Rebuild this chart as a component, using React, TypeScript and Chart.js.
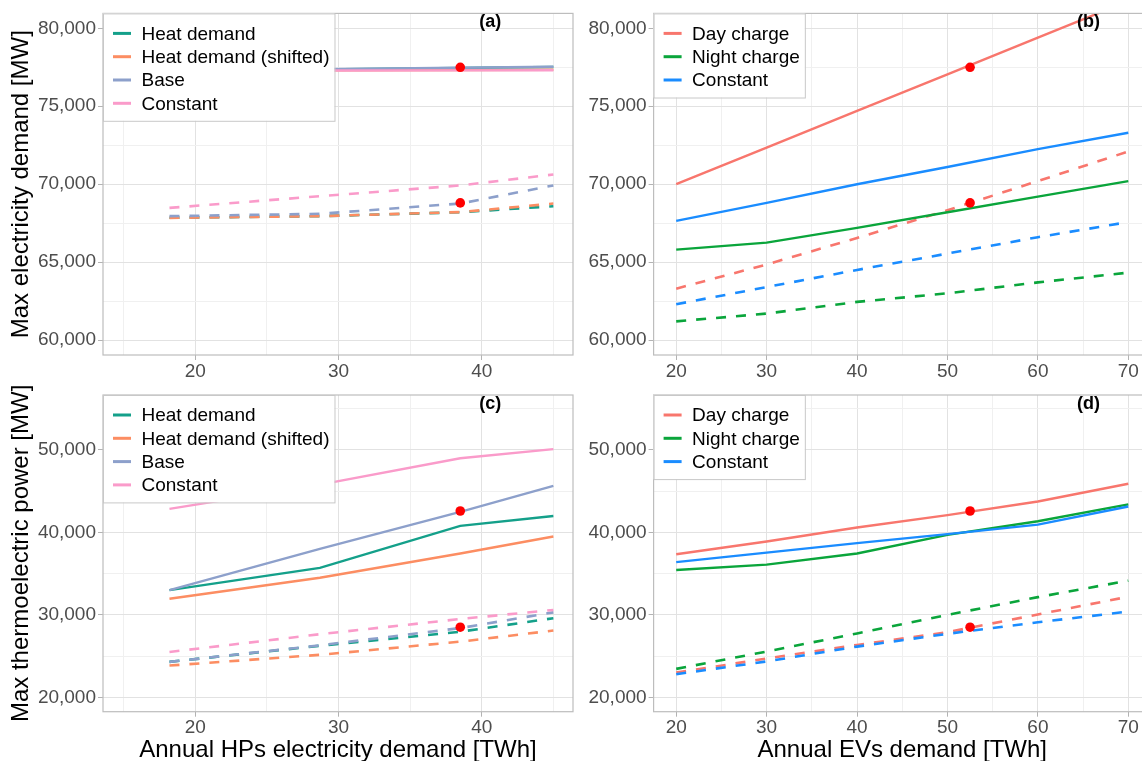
import React, { useEffect, useRef } from "react";
import { Chart, registerables } from "chart.js";

Chart.register(...registerables);

const FONT = "'Liberation Sans', Arial, Helvetica, sans-serif";

// ---------- x values ----------
const hpDemandTWh = [18.2, 28.7, 38.5, 45.0];
const evDemandTWh = [20, 30, 40, 50, 60, 70];

// ---------- tick values ----------
const hpMajorTicks = [20, 30, 40];
const hpMinorTicks = [15, 25, 35, 45];
const evMajorTicks = [20, 30, 40, 50, 60, 70];
const evMinorTicks = [25, 35, 45, 55, 65];
const elecMajorTicks = [60000, 65000, 70000, 75000, 80000];
const elecMinorTicks = [62500, 67500, 72500, 77500];
const thermoMajorTicks = [20000, 30000, 40000, 50000];
const thermoMinorTicks = [25000, 35000, 45000, 55000];

// ---------- series names ----------
const hpSeries = ["Heat demand", "Heat demand (shifted)", "Base", "Constant"];
const evSeries = ["Day charge", "Night charge", "Constant"];

// ---------- (a) max electricity demand vs HP demand ----------
const aHeatSolid = [77300, 77360, 77460, 77520];
const aShiftedSolid = [77290, 77300, 77320, 77340];
const aBaseSolid = [77300, 77370, 77470, 77530];
const aConstSolid = [77280, 77290, 77300, 77310];
const aHeatDashed = [67850, 67950, 68200, 68590];
const aShiftedDashed = [67840, 67950, 68210, 68760];
const aBaseDashed = [67950, 68100, 68760, 69920];
const aConstDashed = [68480, 69230, 69920, 70620];
const aMarkX = [38.5, 38.5];
const aMarkY = [77500, 68800];

// ---------- (b) max electricity demand vs EV demand ----------
const bDaySolid = [70000, 72350, 74700, 77050, 79400, 81750];
const bNightSolid = [65800, 66250, 67200, 68200, 69200, 70200];
const bConstSolid = [67650, 68800, 70000, 71100, 72250, 73300];
const bDayDashed = [63300, 64850, 66550, 68330, 70200, 72100];
const bNightDashed = [61200, 61700, 62450, 63000, 63700, 64330];
const bConstDashed = [62300, 63400, 64500, 65550, 66600, 67570];
const bMarkX = [52.5, 52.5];
const bMarkY = [77500, 68800];

// ---------- (c) max thermoelectric power vs HP demand ----------
const cHeatSolid = [33000, 35700, 40800, 42000];
const cShiftedSolid = [31950, 34500, 37450, 39500];
const cBaseSolid = [33000, 38000, 42500, 45650];
const cConstSolid = [42850, 45800, 49000, 50100];
const cHeatDashed = [24300, 26250, 27950, 29600];
const cShiftedDashed = [23850, 25150, 26750, 28100];
const cBaseDashed = [24300, 26300, 28400, 30300];
const cConstDashed = [25500, 27650, 29500, 30600];
const cMarkX = [38.5, 38.5];
const cMarkY = [42600, 28500];

// ---------- (d) max thermoelectric power vs EV demand ----------
const dDaySolid = [37350, 38900, 40600, 42100, 43750, 45900];
const dNightSolid = [35450, 36100, 37450, 39700, 41350, 43400];
const dConstSolid = [36400, 37550, 38700, 39800, 40950, 43150];
const dDayDashed = [23000, 24700, 26350, 27900, 30050, 32200];
const dNightDashed = [23450, 25550, 27750, 30000, 32150, 34150];
const dConstDashed = [22800, 24350, 26150, 27700, 29100, 30400];
const dMarkX = [52.5, 52.5];
const dMarkY = [42600, 28500];

// ---------- styles ----------
const HP_COLORS = ["#14A08A", "#FC8D62", "#8DA0CB", "#FA9BCA"];
const EV_COLORS = ["#F8766D", "#0AA53B", "#1A8CFF"];
const MAJOR_GRID = "#E2E2E2";
const MINOR_GRID = "#F0F0F0";
const TICK_COLOR = "#B3B3B3";
const TEXT_GRAY = "#4D4D4D";

function buildDatasets(xs: number[], names: string[], solids: number[][], dashes: number[][], colors: string[], markX: number[], markY: number[]) {
  const ds: any[] = [];
  ds.push({
    label: "marker",
    data: markX.map((x, i) => ({ x, y: markY[i] })),
    showLine: false,
    pointRadius: 4.8,
    pointBackgroundColor: "#FF0000",
    pointBorderWidth: 0,
    borderColor: "#FF0000",
    order: -100,
  });
  names.forEach((name, i) => {
    ds.push({
      label: name,
      data: xs.map((x, j) => ({ x, y: solids[i][j] })),
      borderColor: colors[i],
      borderWidth: 2.4,
      pointRadius: 0,
      tension: 0,
      fill: false,
      order: -i,
    });
    ds.push({
      label: name + " (dashed)",
      data: xs.map((x, j) => ({ x, y: dashes[i][j] })),
      borderColor: colors[i],
      borderWidth: 2.6,
      borderDash: [10, 10],
      pointRadius: 0,
      tension: 0,
      fill: false,
      order: -i,
    });
  });
  return ds;
}

type PanelCfg = {
  left: number; top: number; w: number; h: number;
  padTop: number; padRight: number; yWidth: number; xHeight: number;
  xMin: number; xMax: number; yMin: number; yMax: number;
  xMajor: number[]; xMinor: number[]; yMajor: number[]; yMinor: number[];
  yTitle?: string; xTitle?: string;
  tag: string; tagX: number;
  names: string[]; colors: string[];
  datasets: any[];
};

function axisOpts(major: number[], minor: number[], min: number, max: number, isX: boolean, size: number, title: string | undefined, fmt: (v: number) => string) {
  const all = [...major, ...minor].sort((a, b) => a - b);
  return {
    type: "linear",
    min,
    max,
    afterBuildTicks: (s: any) => {
      s.ticks = all.map((v) => ({ value: v }));
    },
    afterFit: (s: any) => {
      if (isX) s.height = size;
      else s.width = size;
    },
    ticks: {
      autoSkip: false,
      maxRotation: 0,
      padding: isX ? 0 : 2,
      color: TEXT_GRAY,
      font: { family: FONT, size: 19, lineHeight: 1.2 },
      callback: (v: any) => (major.includes(Number(v)) ? fmt(Number(v)) : ""),
    },
    grid: {
      color: (c: any) => (c.tick && major.includes(c.tick.value) ? MAJOR_GRID : MINOR_GRID),
      tickColor: (c: any) => (c.tick && major.includes(c.tick.value) ? TICK_COLOR : "rgba(0,0,0,0)"),
      lineWidth: 1,
      tickLength: 5,
      drawTicks: true,
    },
    border: { display: false },
    title: title
      ? {
          display: true,
          text: title,
          color: "#000000",
          font: { family: FONT, size: 24, lineHeight: 1 },
          padding: isX ? { top: 0, bottom: 3 } : { top: 9, bottom: 0 },
        }
      : { display: false },
  };
}

function decorPlugin(cfg: PanelCfg) {
  return {
    id: "decor" + cfg.tag,
    afterDatasetsDraw(chart: any) {
      const ctx = chart.ctx;
      const { left, top, right, bottom } = chart.chartArea;
      ctx.save();
      // panel border
      ctx.strokeStyle = "#BDBDBD";
      ctx.lineWidth = 1.2;
      ctx.strokeRect(left, top, right - left, bottom - top);
      // legend
      ctx.font = `19px ${FONT}`;
      const maxW = Math.max(...cfg.names.map((n) => ctx.measureText(n).width));
      const textOff = 38.5;
      const rowGap = 23.3;
      const boxW = textOff + maxW + 5;
      const boxH = 20 + (cfg.names.length - 1) * rowGap + 17.5;
      ctx.fillStyle = "#FFFFFF";
      ctx.fillRect(left, top, boxW, boxH);
      ctx.strokeStyle = "#C8C8C8";
      ctx.lineWidth = 1;
      ctx.strokeRect(left + 0.5, top + 0.5, boxW, boxH);
      cfg.names.forEach((n, i) => {
        const y = top + 20 + i * rowGap;
        ctx.strokeStyle = cfg.colors[i];
        ctx.lineWidth = 3;
        ctx.setLineDash([]);
        ctx.beginPath();
        ctx.moveTo(left + 10, y);
        ctx.lineTo(left + 28, y);
        ctx.stroke();
        ctx.fillStyle = "#000000";
        ctx.textAlign = "left";
        ctx.textBaseline = "middle";
        ctx.fillText(n, left + textOff, y + 1);
      });
      // panel tag
      ctx.font = `bold 18px ${FONT}`;
      ctx.fillStyle = "#000000";
      ctx.textAlign = "center";
      ctx.textBaseline = "middle";
      ctx.fillText(cfg.tag, chart.scales.x.getPixelForValue(cfg.tagX), top + 9);
      ctx.restore();
    },
  };
}

function Panel({ cfg }: { cfg: PanelCfg }) {
  const ref = useRef<HTMLCanvasElement>(null);
  useEffect(() => {
    const fmtY = (v: number) => v.toLocaleString("en-US");
    const fmtX = (v: number) => String(v);
    const chart = new Chart(ref.current as HTMLCanvasElement, {
      type: "line",
      data: { datasets: cfg.datasets },
      options: {
        responsive: false,
        maintainAspectRatio: false,
        animation: false,
        devicePixelRatio: 1,
        events: [],
        layout: { padding: { top: cfg.padTop, right: cfg.padRight, left: 0, bottom: 0 } },
        plugins: { legend: { display: false }, tooltip: { enabled: false } },
        scales: {
          x: axisOpts(cfg.xMajor, cfg.xMinor, cfg.xMin, cfg.xMax, true, cfg.xHeight, cfg.xTitle, fmtX) as any,
          y: axisOpts(cfg.yMajor, cfg.yMinor, cfg.yMin, cfg.yMax, false, cfg.yWidth, cfg.yTitle, fmtY) as any,
        },
      } as any,
      plugins: [decorPlugin(cfg)],
    });
    return () => chart.destroy();
  }, []);
  return (
    <canvas
      ref={ref}
      width={cfg.w}
      height={cfg.h}
      style={{ position: "absolute", left: cfg.left, top: cfg.top, width: cfg.w, height: cfg.h }}
    />
  );
}

const panels: PanelCfg[] = [
  {
    left: 0, top: 0, w: 600, h: 380, padTop: 11.7, padRight: 27, yWidth: 103, xHeight: 25,
    xMin: 13.56, xMax: 46.37, yMin: 59043, yMax: 80957,
    xMajor: hpMajorTicks, xMinor: hpMinorTicks, yMajor: elecMajorTicks, yMinor: elecMinorTicks,
    yTitle: "Max electricity demand [MW]", tag: "(a)", tagX: 40.6,
    names: hpSeries, colors: HP_COLORS,
    datasets: buildDatasets(hpDemandTWh, hpSeries,
      [aHeatSolid, aShiftedSolid, aBaseSolid, aConstSolid],
      [aHeatDashed, aShiftedDashed, aBaseDashed, aConstDashed], HP_COLORS, aMarkX, aMarkY),
  },
  {
    left: 560, top: 0, w: 600, h: 380, padTop: 11.7, padRight: 9.1, yWidth: 93.6, xHeight: 25,
    xMin: 17.5, xMax: 72.5, yMin: 59043, yMax: 80957,
    xMajor: evMajorTicks, xMinor: evMinorTicks, yMajor: elecMajorTicks, yMinor: elecMinorTicks,
    tag: "(b)", tagX: 65.6,
    names: evSeries, colors: EV_COLORS,
    datasets: buildDatasets(evDemandTWh, evSeries,
      [bDaySolid, bNightSolid, bConstSolid],
      [bDayDashed, bNightDashed, bConstDashed], EV_COLORS, bMarkX, bMarkY),
  },
  {
    left: 0, top: 380, w: 600, h: 385, padTop: 15, padRight: 27, yWidth: 103, xHeight: 53.3,
    xMin: 13.56, xMax: 46.37, yMin: 18253, yMax: 56672,
    xMajor: hpMajorTicks, xMinor: hpMinorTicks, yMajor: thermoMajorTicks, yMinor: thermoMinorTicks,
    yTitle: "Max thermoelectric power [MW]", xTitle: "Annual HPs electricity demand [TWh]",
    tag: "(c)", tagX: 40.6,
    names: hpSeries, colors: HP_COLORS,
    datasets: buildDatasets(hpDemandTWh, hpSeries,
      [cHeatSolid, cShiftedSolid, cBaseSolid, cConstSolid],
      [cHeatDashed, cShiftedDashed, cBaseDashed, cConstDashed], HP_COLORS, cMarkX, cMarkY),
  },
  {
    left: 560, top: 380, w: 600, h: 385, padTop: 15, padRight: 9.1, yWidth: 93.6, xHeight: 53.3,
    xMin: 17.5, xMax: 72.5, yMin: 18253, yMax: 56672,
    xMajor: evMajorTicks, xMinor: evMinorTicks, yMajor: thermoMajorTicks, yMinor: thermoMinorTicks,
    xTitle: "Annual EVs demand [TWh]", tag: "(d)", tagX: 65.6,
    names: evSeries, colors: EV_COLORS,
    datasets: buildDatasets(evDemandTWh, evSeries,
      [dDaySolid, dNightSolid, dConstSolid],
      [dDayDashed, dNightDashed, dConstDashed], EV_COLORS, dMarkX, dMarkY),
  },
];

export default function App() {
  return (
    <div
      style={{
        position: "fixed",
        left: 0,
        top: 0,
        width: 1142,
        height: 761,
        overflow: "hidden",
        background: "#FFFFFF",
      }}
    >
      {panels.map((p) => (
        <Panel key={p.tag} cfg={p} />
      ))}
    </div>
  );
}
